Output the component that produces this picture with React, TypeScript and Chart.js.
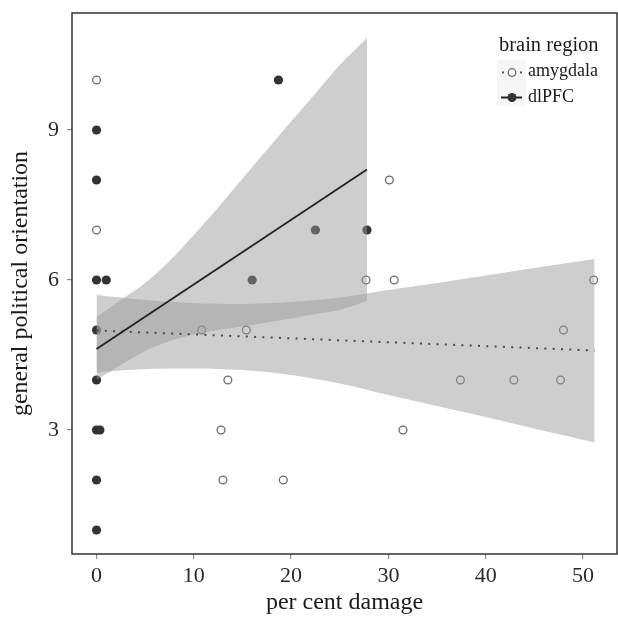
import React, { useEffect, useRef } from 'react';
import { Chart, registerables } from 'chart.js';

Chart.register(...registerables);

// ---- data ----
const xTicks = [0, 10, 20, 30, 40, 50];
const yTicks = [3, 6, 9];

const amygdalaX = [0, 0, 10.8, 15.4, 13.5, 12.8, 13.0, 19.2, 27.7, 30.1, 30.6, 31.5, 37.4, 42.9, 47.7, 48.0, 51.1];
const amygdalaY = [10, 7, 5, 5, 4, 3, 2, 2, 6, 8, 6, 3, 4, 4, 4, 5, 6];

const dlpfcX = [0, 0, 0, 1.0, 0, 0, 0, 0.35, 0, 0, 18.7, 16.0, 22.5, 27.8];
const dlpfcY = [9, 8, 6, 6, 5, 4, 3, 3, 2, 1, 10, 6, 7, 7];

const dlpfcFitX = [0, 27.8];
const dlpfcFitY = [4.62, 8.21];
const amygdalaFitX = [0, 51.2];
const amygdalaFitY = [4.99, 4.59];

const dlpfcBandX = [0, 2.5, 5, 7.5, 10, 12.5, 15, 17.5, 20, 22.5, 25, 27.8];
const dlpfcBandUpper = [5.26, 5.6, 5.94, 6.38, 6.9, 7.45, 8.03, 8.6, 9.17, 9.73, 10.3, 10.84];
const dlpfcBandLower = [4.0, 4.3, 4.58, 4.78, 4.91, 5.0, 5.07, 5.15, 5.23, 5.32, 5.4, 5.58];

const amygdalaBandX = [0, 5, 10, 15, 20, 25, 30, 35, 40, 45, 51.2];
const amygdalaBandUpper = [5.7, 5.6, 5.54, 5.52, 5.56, 5.65, 5.8, 5.94, 6.09, 6.24, 6.42];
const amygdalaBandLower = [4.15, 4.22, 4.23, 4.2, 4.1, 3.93, 3.7, 3.48, 3.26, 3.03, 2.75];

const legendTitle = 'brain region';
const legendLabels = ['amygdala', 'dlPFC'];
const xTitle = 'per cent damage';
const yTitle = 'general political orientation';

const pts = (xs: number[], ys: number[]) => xs.map((x, i) => ({ x, y: ys[i] }));

const SERIF = '"Liberation Serif", "Times New Roman", serif';
const BAND = 'rgba(153,153,153,0.48)';

const framePlugin = {
  id: 'frameAndLegend',
  afterDraw(chart: any) {
    const { ctx, chartArea } = chart;
    ctx.save();
    ctx.strokeStyle = '#333';
    ctx.lineWidth = 1.5;
    ctx.strokeRect(chartArea.left, chartArea.top, chartArea.right - chartArea.left, chartArea.bottom - chartArea.top);

    // legend
    ctx.fillStyle = '#f6f6f6';
    ctx.fillRect(497, 60, 29, 46);
    ctx.fillStyle = '#1a1a1a';
    ctx.textBaseline = 'alphabetic';
    ctx.textAlign = 'left';
    ctx.font = `20.5px ${SERIF}`;
    ctx.fillText(legendTitle, 499, 51);
    ctx.font = `18px ${SERIF}`;
    ctx.fillText(legendLabels[0], 528, 76);
    ctx.fillText(legendLabels[1], 528, 102);

    // amygdala key: dotted line + open circle
    ctx.fillStyle = '#555';
    ctx.fillRect(502, 71.5, 2, 2);
    ctx.fillRect(520, 71.5, 2, 2);
    ctx.beginPath();
    ctx.arc(512, 72.5, 3.8, 0, Math.PI * 2);
    ctx.fillStyle = '#fff';
    ctx.fill();
    ctx.strokeStyle = '#6e6e6e';
    ctx.lineWidth = 1.3;
    ctx.stroke();

    // dlPFC key: solid line + filled circle
    ctx.strokeStyle = '#222';
    ctx.lineWidth = 2;
    ctx.beginPath();
    ctx.moveTo(501, 97.5);
    ctx.lineTo(522, 97.5);
    ctx.stroke();
    ctx.beginPath();
    ctx.arc(512, 97.5, 4.5, 0, Math.PI * 2);
    ctx.fillStyle = '#333';
    ctx.fill();
    ctx.restore();
  },
};

const zeroPad = (s: any) => {
  s.paddingTop = 0;
  s.paddingBottom = 0;
  s.paddingLeft = 0;
  s.paddingRight = 0;
};

export default function App() {
  const ref = useRef<HTMLCanvasElement | null>(null);

  useEffect(() => {
    document.body.style.margin = '0';
    const canvas = ref.current;
    if (!canvas) return;

    const chart = new Chart(canvas, {
      type: 'line',
      data: {
        datasets: [
          {
            label: 'dlPFC fit',
            data: pts(dlpfcFitX, dlpfcFitY),
            borderColor: '#222',
            borderWidth: 1.8,
            pointRadius: 0,
            fill: false,
            order: 0,
          },
          {
            label: 'amygdala fit',
            data: pts(amygdalaFitX, amygdalaFitY),
            borderColor: '#4a4a4a',
            borderWidth: 2,
            borderDash: [2, 6.3],
            borderCapStyle: 'butt',
            pointRadius: 0,
            fill: false,
            order: 0,
          },
          {
            label: 'dlPFC upper',
            data: pts(dlpfcBandX, dlpfcBandUpper),
            borderWidth: 0,
            borderColor: 'rgba(0,0,0,0)',
            backgroundColor: BAND,
            pointRadius: 0,
            tension: 0.3,
            fill: '+1',
            order: 1,
          },
          {
            label: 'dlPFC lower',
            data: pts(dlpfcBandX, dlpfcBandLower),
            borderWidth: 0,
            borderColor: 'rgba(0,0,0,0)',
            pointRadius: 0,
            tension: 0.3,
            fill: false,
            order: 1,
          },
          {
            label: 'amygdala upper',
            data: pts(amygdalaBandX, amygdalaBandUpper),
            borderWidth: 0,
            borderColor: 'rgba(0,0,0,0)',
            backgroundColor: BAND,
            pointRadius: 0,
            tension: 0.3,
            fill: '+1',
            order: 1,
          },
          {
            label: 'amygdala lower',
            data: pts(amygdalaBandX, amygdalaBandLower),
            borderWidth: 0,
            borderColor: 'rgba(0,0,0,0)',
            pointRadius: 0,
            tension: 0.3,
            fill: false,
            order: 1,
          },
          {
            label: 'amygdala',
            data: pts(amygdalaX, amygdalaY),
            showLine: false,
            pointStyle: 'circle',
            pointRadius: 3.9,
            pointBorderWidth: 1.3,
            pointBorderColor: '#6a6a6a',
            pointBackgroundColor: 'rgba(255,255,255,1)',
            order: 2,
          },
          {
            label: 'dlPFC',
            data: pts(dlpfcX, dlpfcY),
            showLine: false,
            pointStyle: 'circle',
            pointRadius: 4.6,
            pointBorderWidth: 0,
            pointBackgroundColor: '#333',
            order: 2,
          },
        ] as any,
      },
      options: {
        responsive: false,
        animation: false,
        devicePixelRatio: 1,
        layout: { autoPadding: false, padding: { top: 13, right: 1, left: 0, bottom: 0 } },
        plugins: {
          legend: { display: false },
          tooltip: { enabled: false },
          filler: { drawTime: 'beforeDatasetDraw' } as any,
        },
        scales: {
          x: {
            type: 'linear',
            min: -2.52,
            max: 53.5,
            afterBuildTicks: (s: any) => {
              s.ticks = xTicks.map((v) => ({ value: v }));
            },
            afterFit: (s: any) => {
              s.height = 66;
              zeroPad(s);
            },
            grid: { drawOnChartArea: false, drawTicks: true, tickLength: 5, color: '#8a8a8a', lineWidth: 1.2 },
            border: { display: false },
            ticks: {
              padding: 4,
              color: '#2a2a2a',
              font: { family: SERIF, size: 22 },
              maxRotation: 0,
              autoSkip: false,
            },
            title: {
              display: true,
              text: xTitle,
              color: '#1a1a1a',
              font: { family: SERIF, size: 24 },
              padding: { top: 0, bottom: 3 },
            },
          },
          y: {
            type: 'linear',
            min: 0.52,
            max: 11.34,
            afterBuildTicks: (s: any) => {
              s.ticks = yTicks.map((v) => ({ value: v }));
            },
            afterFit: (s: any) => {
              s.width = 72;
              zeroPad(s);
            },
            grid: { drawOnChartArea: false, drawTicks: true, tickLength: 5, color: '#8a8a8a', lineWidth: 1.2 },
            border: { display: false },
            ticks: {
              padding: 8,
              color: '#2a2a2a',
              font: { family: SERIF, size: 22 },
              autoSkip: false,
            },
            title: {
              display: true,
              text: yTitle,
              color: '#1a1a1a',
              font: { family: SERIF, size: 24 },
              padding: { top: 6.5, bottom: 0 },
            },
          },
        },
      },
      plugins: [framePlugin],
    });

    return () => chart.destroy();
  }, []);

  return (
    <div style={{ width: 618, height: 620 }}>
      <canvas ref={ref} width={618} height={620} style={{ display: 'block', width: 618, height: 620 }} />
    </div>
  );
}
